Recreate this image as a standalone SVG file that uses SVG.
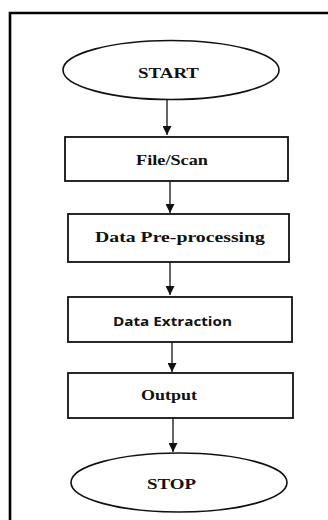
<svg xmlns="http://www.w3.org/2000/svg" width="328" height="520" viewBox="0 0 328 520">
<style>
.shape{fill:#fff;stroke:#111;stroke-width:1.8}
.ell{fill:#fff;stroke:#111;stroke-width:1.6}
.serif{font-family:"Liberation Serif","Times New Roman",serif;font-weight:bold;font-size:15px;fill:#111;text-anchor:middle}
.sans{font-family:"Open Sans","Liberation Sans",Arial,sans-serif;font-weight:bold;font-size:13px;fill:#111;text-anchor:middle}
.conn{stroke:#111;stroke-width:1.3;fill:none;marker-end:url(#arr)}
</style>
<defs>
<marker id="arr" viewBox="0 0 10 10" refX="10" refY="5" markerWidth="10" markerHeight="9" markerUnits="userSpaceOnUse" orient="auto">
<path d="M0,0 L10,5 L0,10 Z" fill="#111"/>
</marker>
</defs>
<rect width="328" height="520" fill="#fff"/>
<path d="M10,520 V13 H328" fill="none" stroke="#000" stroke-width="2.6"/>
<g id="connectors">
<line class="conn" x1="167" y1="100" x2="167" y2="135"/>
<line class="conn" x1="170" y1="181" x2="170" y2="213"/>
<line class="conn" x1="170" y1="262" x2="170" y2="295"/>
<line class="conn" x1="172" y1="342" x2="172" y2="372"/>
<line class="conn" x1="173" y1="418" x2="173" y2="452"/>
</g>
<g id="start">
<ellipse class="ell" cx="171" cy="70" rx="108" ry="29.5"/>
<text class="serif" x="168.5" y="77.5" textLength="61" lengthAdjust="spacingAndGlyphs">START</text>
</g>
<g id="filescan">
<rect class="shape" x="65" y="137" width="223" height="44"/>
<text class="serif" x="172" y="164.5" textLength="72" lengthAdjust="spacingAndGlyphs">File/Scan</text>
</g>
<g id="preprocessing">
<rect class="shape" x="68" y="214" width="221" height="48"/>
<text class="serif" x="180" y="241.5" textLength="170" lengthAdjust="spacingAndGlyphs">Data Pre-processing</text>
</g>
<g id="extraction">
<rect class="shape" x="68" y="297" width="224" height="45"/>
<text class="sans" x="172.5" y="325.5" textLength="119" lengthAdjust="spacingAndGlyphs">Data Extraction</text>
</g>
<g id="output">
<rect class="shape" x="68" y="373" width="225" height="45"/>
<text class="serif" x="169" y="400" textLength="56" lengthAdjust="spacingAndGlyphs">Output</text>
</g>
<g id="stop">
<ellipse class="ell" cx="179" cy="482.5" rx="108" ry="29.5"/>
<text class="serif" x="171.5" y="489" textLength="49" lengthAdjust="spacingAndGlyphs">STOP</text>
</g>
</svg>
